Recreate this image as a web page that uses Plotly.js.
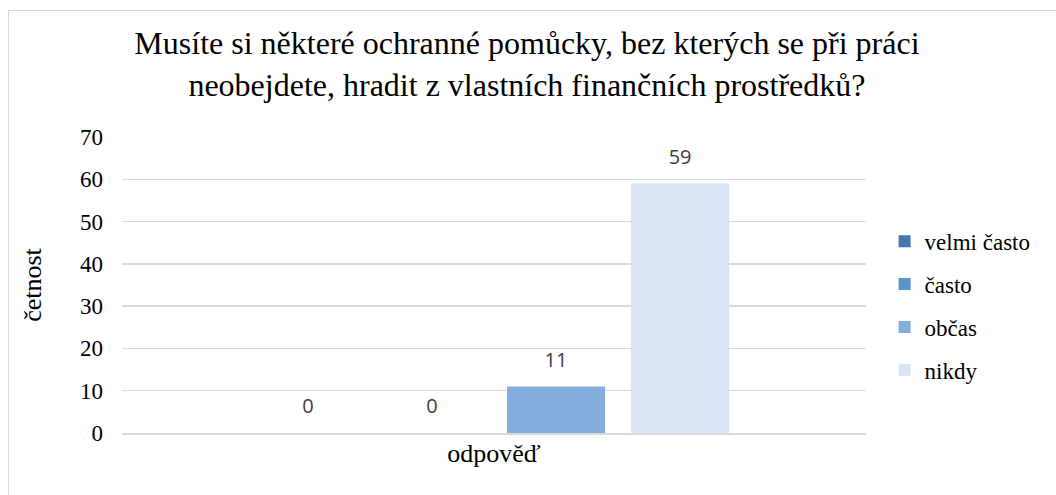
<!DOCTYPE html>
<html>
<head>
<meta charset="utf-8">
<script src="https://cdn.plot.ly/plotly-3.0.1.min.js"></script>
<style>
  html, body { margin: 0; padding: 0; background: #fff; overflow: hidden; }
  #wrap { position: relative; width: 1056px; height: 495px; }
  #chart { width: 1056px; height: 495px; }
  #frame { position: absolute; left: 8px; top: 10px; width: 1200px; height: 700px;
           border: 1.5px solid #d9d9d9; pointer-events: none; box-sizing: border-box; }
</style>
</head>
<body>
<div id="wrap">
  <div id="chart"></div>
  <div id="frame"></div>
</div>
<script>
const categories = ["odpověď"];
const seriesNames = ["velmi často", "často", "občas", "nikdy"];
const seriesValues = [[0], [0], [11], [59]];
const seriesColors = ["#4575aa", "#5b93cf", "#86aedc", "#dae3f3"];
const yTickVals = [0, 10, 20, 30, 40, 50, 60, 70];

const barTraces = seriesNames.map((name, i) => ({
  type: "bar",
  name: name,
  x: categories,
  y: seriesValues[i],
  marker: { color: seriesColors[i] },
  legendgroup: "g" + i,
  hoverinfo: "none"
}));

// value labels: grouped scatter text traces aligned with the bars
const labelTraces = seriesNames.map((name, i) => ({
  type: "scatter",
  mode: "markers+text",
  name: name + " label",
  x: categories,
  y: seriesValues[i],
  text: seriesValues[i].map(String),
  textposition: "top center",
  textfont: { family: "Open Sans, Liberation Sans, sans-serif", size: 20, color: "#404040" },
  marker: { size: 22, opacity: 0, color: seriesColors[i] },
  cliponaxis: false,
  showlegend: false,
  hoverinfo: "none"
}));

const layout = {
  width: 1056,
  height: 495,
  paper_bgcolor: "#ffffff",
  plot_bgcolor: "#ffffff",
  margin: { l: 122, r: 190, t: 137, b: 62 },
  font: { family: "Liberation Serif, Times New Roman, serif", color: "#000000", size: 23 },
  title: {
    text: "Musíte si některé ochranné pomůcky, bez kterých se při práci<br>neobejdete, hradit z vlastních finančních prostředků?",
    font: { family: "Liberation Serif, Times New Roman, serif", size: 32, color: "#000000" },
    x: 0.499, xanchor: "center",
    y: 0.89, yanchor: "middle"
  },
  barmode: "group",
  bargap: 0.333,
  bargroupgap: 0.21,
  scattermode: "group",
  scattergap: 0.333,
  xaxis: {
    type: "category",
    showgrid: false,
    showline: true,
    linecolor: "#d9d9d9",
    linewidth: 1.5,
    ticks: "",
    showticklabels: false,
    title: { text: "odpověď", font: { size: 26 }, standoff: 10 }
  },
  yaxis: {
    range: [0, 70],
    tickvals: yTickVals,
    ticktext: yTickVals.map(String),
    showgrid: true,
    gridcolor: "#d9d9d9",
    gridwidth: 1.5,
    zeroline: false,
    showline: false,
    ticks: "",
    ticklabelstandoff: 18,
    tickfont: { size: 23 },
    title: { text: "četnost", font: { size: 26 }, standoff: 30 }
  },
  showlegend: true,
  legend: {
    x: 1.025, xanchor: "left",
    y: 0.43, yanchor: "middle",
    font: { size: 23 },
    tracegroupgap: 10,
    itemwidth: 30,
    bgcolor: "rgba(0,0,0,0)"
  }
};

Plotly.newPlot("chart", barTraces.concat(labelTraces), layout, { displayModeBar: false, staticPlot: true });
</script>
</body>
</html>
